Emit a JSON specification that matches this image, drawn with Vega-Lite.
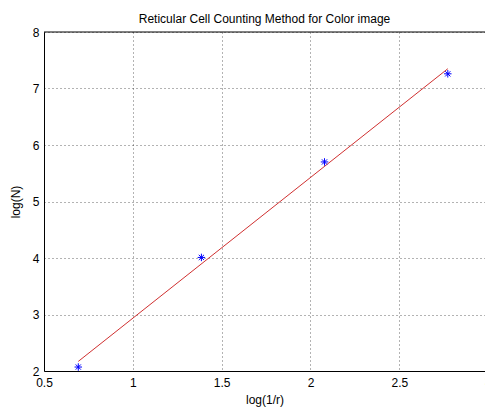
{
  "$schema": "https://vega.github.io/schema/vega-lite/v6.json",
  "autosize": {"type": "none"},
  "width": 441,
  "height": 339,
  "padding": {"left": 44, "top": 32, "right": 0, "bottom": 36},
  "background": "white",
  "config": {
    "view": {"stroke": null},
    "font": "Liberation Sans",
    "axis": {
      "labelFont": "Liberation Sans",
      "titleFont": "Liberation Sans",
      "labelFontSize": 12,
      "titleFontSize": 12,
      "titleFontWeight": "normal",
      "labelColor": "#000000",
      "titleColor": "#000000",
      "domainColor": "#000000",
      "domainWidth": 1,
      "ticks": false,
      "grid": true,
      "gridColor": "#000000",
      "gridDash": [1, 3],
      "gridOpacity": 0.6,
      "gridWidth": 1
    }
  },
  "title": {
    "text": "Reticular Cell Counting Method for Color image",
    "font": "Liberation Sans",
    "fontSize": 12,
    "fontWeight": "normal",
    "color": "#000000",
    "anchor": "middle",
    "offset": 0
  },
  "datasets": {
    "points": [
      {"x": 0.693, "y": 2.07},
      {"x": 1.386, "y": 4.01},
      {"x": 2.079, "y": 5.70},
      {"x": 2.773, "y": 7.26}
    ],
    "fit": [
      {"x": 0.693, "y": 2.17},
      {"x": 2.773, "y": 7.35}
    ],
    "border": [
      {"top": 8}
    ],
    "edgeLabel": [
      {"x": 3, "y": 2, "label": "3"}
    ]
  },
  "layer": [
    {
      "data": {"name": "fit"},
      "mark": {"type": "line", "color": "#d03030", "strokeWidth": 1},
      "encoding": {
        "x": {
          "field": "x",
          "type": "quantitative",
          "scale": {"domain": [0.5, 2.9824], "nice": false, "zero": false},
          "axis": {
            "values": [0.5, 1, 1.5, 2, 2.5],
            "format": "~g",
            "title": "log(1/r)",
            "labelPadding": 6,
            "titlePadding": 6,
            "labelFlush": false,
            "labelOverlap": false
          }
        },
        "y": {
          "field": "y",
          "type": "quantitative",
          "scale": {"domain": [2, 8], "nice": false, "zero": false},
          "axis": {
            "values": [2, 3, 4, 5, 6, 7, 8],
            "format": "d",
            "title": "log(N)",
            "labelPadding": 5,
            "titlePadding": 10,
            "labelFlush": false,
            "labelOverlap": false
          }
        }
      }
    },
    {
      "data": {"name": "points"},
      "mark": {
        "type": "point",
        "shape": "M-1,0L1,0M0,-1L0,1M-0.7,-0.7L0.7,0.7M-0.7,0.7L0.7,-0.7",
        "filled": false,
        "color": "#0000ff",
        "strokeWidth": 1,
        "size": 56,
        "opacity": 1
      },
      "encoding": {
        "x": {"field": "x", "type": "quantitative"},
        "y": {"field": "y", "type": "quantitative"}
      }
    },
    {
      "data": {"name": "border"},
      "mark": {"type": "rule", "color": "#000000", "strokeWidth": 1},
      "encoding": {
        "y": {"field": "top", "type": "quantitative"}
      }
    },
    {
      "data": {"name": "edgeLabel"},
      "mark": {"type": "text", "fontSize": 12, "font": "Liberation Sans", "color": "#000000", "baseline": "top", "align": "center", "dy": 6},
      "encoding": {
        "x": {"field": "x", "type": "quantitative"},
        "y": {"field": "y", "type": "quantitative"},
        "text": {"field": "label"}
      }
    }
  ]
}
